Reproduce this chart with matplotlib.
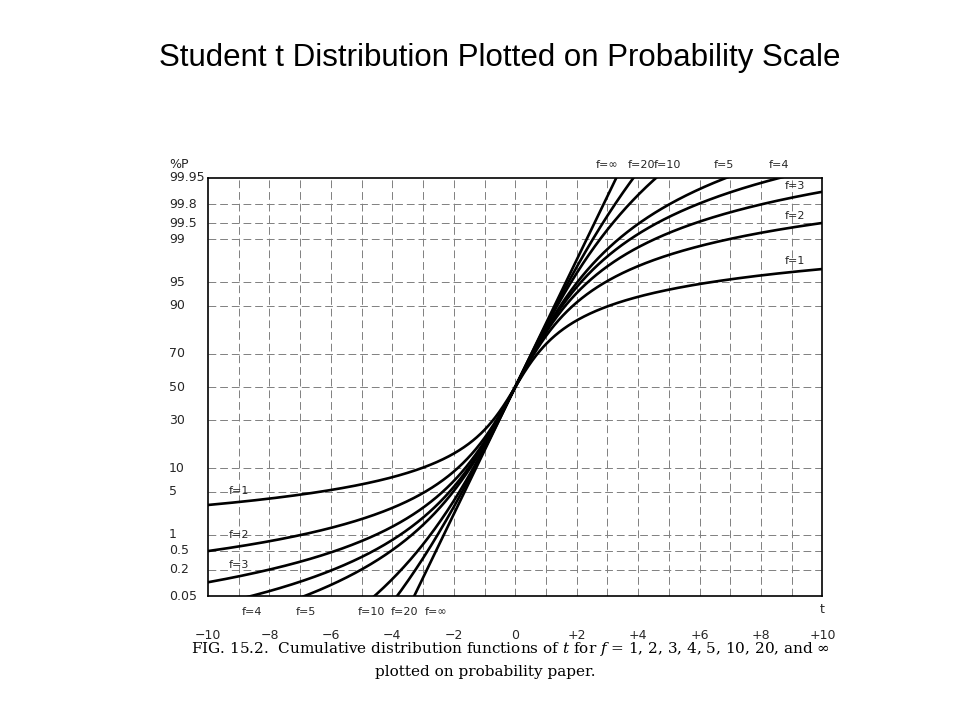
#!/usr/bin/env python

# Student t CDFs on normal probability paper, after the scanned book figure

import math
from statistics import NormalDist
import numpy as np
import matplotlib
matplotlib.use("Agg")
import matplotlib.pyplot as plt
import matplotlib.transforms as mtransforms

# degrees of freedom (0 means infinity / normal)
dofs = [1, 2, 3, 4, 5, 10, 20, 0]
prob_ticks = [0.05, 0.2, 0.5, 1, 5, 10, 30, 50, 70, 90, 95, 99, 99.5, 99.8, 99.95]
prob_labels = ["0.05", "0.2", "0.5", "1", "5", "10", "30", "50", "70", "90", "95",
               "99", "99.5", "99.8", "99.95"]
t_ticks = [-10, -8, -6, -4, -2, 0, 2, 4, 6, 8, 10]
t_labels = ["\u221210", "\u22128", "\u22126", "\u22124", "\u22122", "0",
            "+2", "+4", "+6", "+8", "+10"]

# label positions: top/bottom by t, left/right by dof (placed just above the curve)
top_labels = [("f=\u221e", 3.0), ("f=20", 4.1), ("f=10", 4.95), ("f=5", 6.8), ("f=4", 8.6)]
right_labels = [("f=3", 3), ("f=2", 2), ("f=1", 1)]
left_labels = [("f=1", 1), ("f=2", 2), ("f=3", 3)]
bottom_labels = [("f=4", -8.58), ("f=5", -6.8), ("f=10", -4.69), ("f=20", -3.62), ("f=\u221e", -2.57)]

nd = NormalDist()


def t_cdf(t, f):
    t = np.atleast_1d(np.asarray(t, dtype=float))
    if f == 0:
        return np.array([nd.cdf(v) for v in t])
    c = math.exp(math.lgamma((f + 1) / 2) - math.lgamma(f / 2)) / math.sqrt(f * math.pi)
    grid = np.linspace(0, 12, 24001)
    pdf = c * (1 + grid ** 2 / f) ** (-(f + 1) / 2)
    cum = np.concatenate([[0], np.cumsum((pdf[1:] + pdf[:-1]) / 2 * np.diff(grid))])
    half = np.interp(np.abs(t), grid, cum)
    return 0.5 + np.sign(t) * half


def probit(p):
    return np.array([nd.inv_cdf(min(max(v, 1e-12), 1 - 1e-12)) for v in p])


fig = plt.figure(figsize=(9.6, 7.2), dpi=100)
fig.text(0.521, 0.919, "Student t Distribution Plotted on Probability Scale",
         ha="center", va="center", fontsize=22.5, family="Liberation Sans")

ax = fig.add_axes([0.2167, 0.172, 0.64, 0.581])
zmax = nd.inv_cdf(0.9995)
ax.set_xlim(-10, 10)
ax.set_ylim(-zmax, zmax)
ax.set_xticks([])
ax.set_yticks([])
for s in ax.spines.values():
    s.set_linewidth(1.2)

# grid
for x in range(-9, 10):
    ax.axvline(x, color="0.5", lw=0.7, ls=(0, (8, 4)))
for p in prob_ticks[1:-1]:
    ax.axhline(nd.inv_cdf(p / 100), color="0.5", lw=0.7, ls=(0, (8, 4)))

t = np.linspace(-10, 10, 2001)
for f in dofs:
    ax.plot(t, probit(t_cdf(t, f)), color="black", lw=1.9)

lab = dict(fontsize=8, family="DejaVu Sans", color="0.15")
for s, x in top_labels:
    ax.text(x, zmax + 0.2, s, ha="center", va="center", clip_on=False, **lab)
for s, f in right_labels:
    z = probit(t_cdf(9.0, f))[0]
    ax.text(9.1, z + 0.1, s, ha="center", va="bottom", **lab)
for s, f in left_labels:
    z = probit(t_cdf(-9.0, f))[0]
    ax.text(-9.0, z + 0.1, s, ha="center", va="bottom", **lab)
for s, x in bottom_labels:
    ax.text(x, -zmax - 0.17, s, ha="center", va="top", clip_on=False, **lab)

# axis labels
trans = mtransforms.blended_transform_factory(fig.transFigure, ax.transData)
for p, s in zip(prob_ticks, prob_labels):
    fig.text(0.176, nd.inv_cdf(p / 100), s, transform=trans, ha="left",
             va="center", fontsize=9, family="DejaVu Sans", color="0.15")
fig.text(0.176, 0.771, "%P", ha="left", va="center", fontsize=9, color="0.15")
for x, s in zip(t_ticks, t_labels):
    ax.text(x, -zmax - 0.52, s, ha="center", va="top", clip_on=False,
            fontsize=9, family="DejaVu Sans", color="0.15")
ax.text(10, -zmax - 0.1, "t", ha="center", va="top", fontsize=9, color="0.15")

plt.rcParams["mathtext.fontset"] = "dejavuserif"
fig.text(0.532, 0.098,
         r"F$\mathrm{IG}$. 15.2.  Cumulative distribution functions of $t$ for $f$ = 1, 2, 3, 4, 5, 10, 20, and $\infty$",
         ha="center", va="center", fontsize=11, family="DejaVu Serif")
fig.text(0.505, 0.066, "plotted on probability paper.", ha="center",
         va="center", fontsize=11, family="DejaVu Serif")

fig.savefig("out.png", dpi=100)
